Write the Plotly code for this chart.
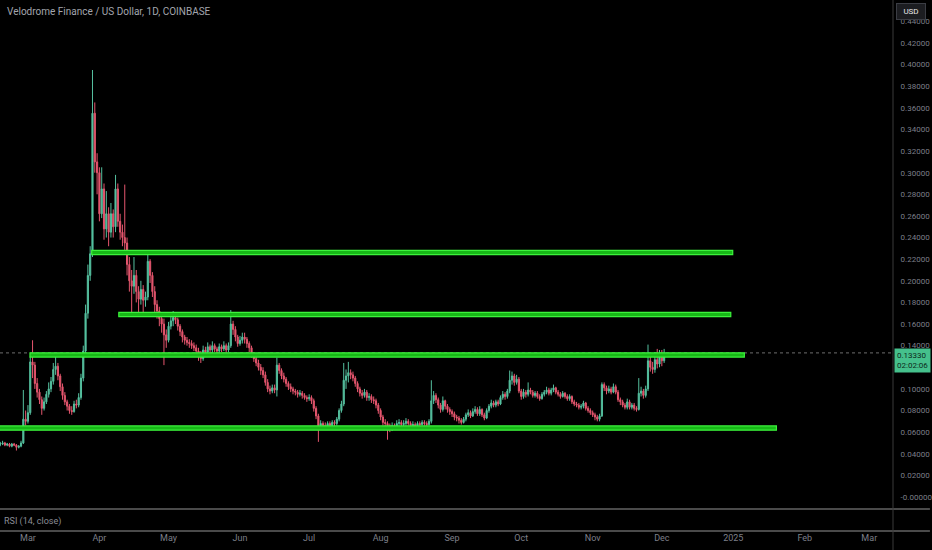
import pandas as pd
import plotly.graph_objects as go

# ---------------- data (daily candles, VELO/USD, COINBASE) ----------------
start_date = "2024-02-18"

opens = [
 0.049,0.049,0.050,0.048,0.049,0.047,0.049,0.048,0.046,0.047,
 0.050,0.072,0.070,0.078,0.125,0.122,0.105,0.097,0.090,0.082,
 0.088,0.095,0.100,0.107,0.118,0.121,0.112,0.102,0.094,0.088,
 0.084,0.080,0.079,0.086,0.085,0.092,0.110,0.135,0.170,0.205,
 0.225,0.355,0.310,0.300,0.262,0.285,0.248,0.262,0.245,0.262,
 0.250,0.285,0.255,0.245,0.240,0.235,0.215,0.200,0.195,0.205,
 0.190,0.183,0.192,0.182,0.185,0.218,0.205,0.190,0.178,0.172,
 0.165,0.160,0.150,0.145,0.158,0.163,0.166,0.164,0.158,0.153,
 0.148,0.145,0.143,0.142,0.140,0.138,0.135,0.131,0.128,0.136,
 0.134,0.139,0.136,0.140,0.137,0.135,0.139,0.137,0.140,0.136,
 0.140,0.160,0.155,0.148,0.142,0.145,0.148,0.146,0.142,0.138,
 0.132,0.128,0.124,0.120,0.117,0.113,0.106,0.100,0.098,0.101,
 0.099,0.122,0.117,0.112,0.109,0.105,0.102,0.100,0.098,0.097,
 0.095,0.096,0.094,0.092,0.091,0.092,0.089,0.082,0.075,0.066,
 0.068,0.066,0.065,0.068,0.066,0.069,0.068,0.072,0.080,0.086,
 0.108,0.112,0.115,0.113,0.110,0.105,0.100,0.096,0.094,0.097,
 0.092,0.093,0.090,0.089,0.085,0.080,0.074,0.069,0.068,0.066,
 0.064,0.066,0.064,0.068,0.069,0.067,0.068,0.070,0.068,0.066,
 0.067,0.066,0.068,0.067,0.069,0.068,0.067,0.070,0.089,0.094,
 0.090,0.085,0.081,0.089,0.084,0.081,0.079,0.077,0.074,0.073,
 0.071,0.069,0.072,0.076,0.078,0.075,0.079,0.081,0.077,0.081,
 0.076,0.073,0.080,0.084,0.087,0.085,0.088,0.086,0.092,0.095,
 0.093,0.098,0.108,0.112,0.106,0.109,0.098,0.093,0.097,0.095,
 0.099,0.097,0.094,0.096,0.093,0.091,0.095,0.097,0.099,0.096,
 0.099,0.101,0.097,0.095,0.093,0.096,0.093,0.091,0.093,0.088,
 0.086,0.085,0.083,0.084,0.087,0.082,0.080,0.078,0.076,0.074,
 0.072,0.075,0.104,0.101,0.098,0.100,0.097,0.102,0.097,0.090,
 0.088,0.085,0.083,0.088,0.083,0.085,0.082,0.081,0.096,0.098,
 0.094,0.100,0.126,0.120,0.118,0.127,0.123,0.131,0.126,
]
highs = [
 0.051,0.052,0.051,0.050,0.050,0.050,0.050,0.049,0.048,0.052,
 0.099,0.080,0.085,0.130,0.145,0.125,0.110,0.100,0.093,0.092,
 0.098,0.106,0.111,0.124,0.133,0.124,0.114,0.105,0.097,0.090,
 0.086,0.084,0.089,0.090,0.096,0.114,0.140,0.178,0.215,0.232,
 0.395,0.365,0.318,0.305,0.305,0.290,0.283,0.268,0.272,0.266,
 0.298,0.290,0.262,0.252,0.289,0.240,0.222,0.210,0.222,0.210,
 0.195,0.200,0.196,0.190,0.226,0.220,0.208,0.195,0.182,0.176,
 0.170,0.165,0.155,0.162,0.168,0.172,0.170,0.166,0.160,0.155,
 0.150,0.148,0.146,0.145,0.143,0.141,0.138,0.135,0.140,0.139,
 0.143,0.141,0.144,0.142,0.139,0.142,0.141,0.144,0.142,0.143,
 0.173,0.163,0.158,0.150,0.149,0.152,0.152,0.148,0.144,0.140,
 0.134,0.130,0.127,0.123,0.120,0.116,0.109,0.103,0.104,0.104,
 0.129,0.124,0.119,0.115,0.111,0.107,0.105,0.102,0.100,0.099,
 0.099,0.098,0.096,0.094,0.095,0.094,0.091,0.084,0.077,0.071,
 0.070,0.069,0.070,0.070,0.071,0.071,0.074,0.082,0.089,0.124,
 0.118,0.125,0.118,0.116,0.112,0.107,0.102,0.099,0.100,0.099,
 0.096,0.095,0.093,0.091,0.087,0.082,0.076,0.072,0.070,0.068,
 0.069,0.068,0.071,0.072,0.071,0.071,0.073,0.072,0.070,0.070,
 0.069,0.070,0.070,0.071,0.071,0.070,0.072,0.108,0.098,0.096,
 0.092,0.087,0.093,0.090,0.086,0.083,0.081,0.079,0.076,0.075,
 0.073,0.074,0.078,0.081,0.080,0.082,0.084,0.083,0.084,0.082,
 0.078,0.082,0.086,0.090,0.089,0.090,0.090,0.094,0.098,0.097,
 0.100,0.117,0.116,0.114,0.113,0.111,0.100,0.100,0.099,0.106,
 0.101,0.099,0.098,0.098,0.095,0.097,0.099,0.102,0.101,0.101,
 0.104,0.102,0.099,0.097,0.098,0.097,0.095,0.095,0.094,0.090,
 0.088,0.087,0.086,0.089,0.088,0.084,0.082,0.080,0.078,0.076,
 0.077,0.106,0.106,0.103,0.103,0.102,0.105,0.104,0.099,0.092,
 0.090,0.087,0.091,0.090,0.087,0.087,0.084,0.110,0.102,0.100,
 0.103,0.141,0.130,0.125,0.134,0.137,0.136,0.136,0.137,
]
lows = [
 0.047,0.048,0.047,0.047,0.046,0.046,0.047,0.043,0.045,0.046,
 0.049,0.066,0.068,0.076,0.110,0.100,0.092,0.086,0.076,0.080,
 0.086,0.092,0.097,0.104,0.113,0.108,0.098,0.090,0.085,0.080,
 0.077,0.076,0.078,0.082,0.083,0.090,0.107,0.130,0.165,0.200,
 0.222,0.300,0.280,0.255,0.258,0.238,0.240,0.232,0.240,0.240,
 0.245,0.250,0.238,0.232,0.228,0.205,0.190,0.170,0.188,0.180,
 0.170,0.178,0.168,0.176,0.182,0.198,0.185,0.168,0.165,0.158,
 0.152,0.122,0.138,0.143,0.155,0.158,0.160,0.154,0.149,0.143,
 0.141,0.140,0.138,0.137,0.135,0.130,0.126,0.124,0.126,0.130,
 0.131,0.133,0.133,0.134,0.132,0.133,0.134,0.135,0.133,0.134,
 0.138,0.150,0.144,0.139,0.140,0.142,0.142,0.138,0.134,0.129,
 0.125,0.121,0.117,0.113,0.110,0.103,0.097,0.095,0.096,0.096,
 0.093,0.114,0.109,0.106,0.102,0.099,0.097,0.095,0.094,0.092,
 0.093,0.091,0.090,0.088,0.089,0.086,0.079,0.072,0.051,0.064,
 0.063,0.062,0.063,0.064,0.064,0.065,0.066,0.070,0.078,0.084,
 0.100,0.106,0.109,0.107,0.102,0.097,0.093,0.091,0.092,0.089,
 0.089,0.087,0.086,0.082,0.077,0.071,0.066,0.062,0.053,0.060,
 0.061,0.062,0.062,0.066,0.065,0.065,0.066,0.066,0.064,0.064,
 0.064,0.065,0.065,0.066,0.066,0.065,0.066,0.068,0.086,0.087,
 0.082,0.078,0.079,0.081,0.078,0.076,0.074,0.071,0.070,0.068,
 0.067,0.068,0.070,0.074,0.073,0.074,0.077,0.075,0.075,0.074,
 0.071,0.072,0.078,0.082,0.083,0.083,0.084,0.085,0.090,0.090,
 0.091,0.096,0.104,0.103,0.104,0.096,0.090,0.091,0.092,0.093,
 0.095,0.092,0.092,0.091,0.089,0.090,0.093,0.095,0.094,0.094,
 0.097,0.095,0.093,0.091,0.092,0.091,0.089,0.089,0.086,0.084,
 0.083,0.081,0.081,0.082,0.080,0.078,0.076,0.074,0.071,0.070,
 0.070,0.074,0.098,0.095,0.096,0.095,0.096,0.095,0.088,0.085,
 0.083,0.081,0.081,0.081,0.081,0.080,0.079,0.080,0.093,0.091,
 0.092,0.098,0.116,0.114,0.115,0.119,0.120,0.121,0.124,
]
closes = [
 0.049,0.050,0.048,0.049,0.047,0.049,0.048,0.046,0.047,0.050,
 0.072,0.070,0.078,0.125,0.122,0.105,0.097,0.090,0.082,0.088,
 0.095,0.100,0.107,0.118,0.121,0.112,0.102,0.094,0.088,0.084,
 0.080,0.079,0.086,0.085,0.092,0.110,0.135,0.170,0.205,0.225,
 0.355,0.310,0.300,0.262,0.285,0.248,0.262,0.245,0.262,0.250,
 0.285,0.255,0.245,0.240,0.235,0.215,0.200,0.195,0.205,0.190,
 0.183,0.192,0.182,0.185,0.218,0.205,0.190,0.178,0.172,0.165,
 0.160,0.150,0.145,0.158,0.163,0.166,0.164,0.158,0.153,0.148,
 0.145,0.143,0.142,0.140,0.138,0.135,0.131,0.128,0.136,0.134,
 0.139,0.136,0.140,0.137,0.135,0.139,0.137,0.140,0.136,0.140,
 0.160,0.155,0.148,0.142,0.145,0.148,0.146,0.142,0.138,0.132,
 0.128,0.124,0.120,0.117,0.113,0.106,0.100,0.098,0.101,0.099,
 0.122,0.117,0.112,0.109,0.105,0.102,0.100,0.098,0.097,0.095,
 0.096,0.094,0.092,0.091,0.092,0.089,0.082,0.075,0.066,0.068,
 0.066,0.065,0.068,0.066,0.069,0.068,0.072,0.080,0.086,0.108,
 0.112,0.115,0.113,0.110,0.105,0.100,0.096,0.094,0.097,0.092,
 0.093,0.090,0.089,0.085,0.080,0.074,0.069,0.068,0.066,0.064,
 0.066,0.064,0.068,0.069,0.067,0.068,0.070,0.068,0.066,0.067,
 0.066,0.068,0.067,0.069,0.068,0.067,0.070,0.089,0.094,0.090,
 0.085,0.081,0.089,0.084,0.081,0.079,0.077,0.074,0.073,0.071,
 0.069,0.072,0.076,0.078,0.075,0.079,0.081,0.077,0.081,0.076,
 0.073,0.080,0.084,0.087,0.085,0.088,0.086,0.092,0.095,0.093,
 0.098,0.108,0.112,0.106,0.109,0.098,0.093,0.097,0.095,0.099,
 0.097,0.094,0.096,0.093,0.091,0.095,0.097,0.099,0.096,0.099,
 0.101,0.097,0.095,0.093,0.096,0.093,0.091,0.093,0.088,0.086,
 0.085,0.083,0.084,0.087,0.082,0.080,0.078,0.076,0.074,0.072,
 0.075,0.104,0.101,0.098,0.100,0.097,0.102,0.097,0.090,0.088,
 0.085,0.083,0.088,0.083,0.085,0.082,0.081,0.096,0.098,0.094,
 0.100,0.126,0.120,0.118,0.127,0.123,0.131,0.126,0.1333,
]

# horizontal zones drawn on the chart (price level, start, end)
zone_levels = [0.2262, 0.1688, 0.1314, 0.0638]
zone_starts = ["2024-03-28 16:00", "2024-04-09 10:00", "2024-03-01 21:00", "2024-01-20"]
zone_ends = ["2024-12-31 18:00", "2024-12-30 22:00", "2025-01-05 19:00", "2025-01-19 17:00"]

# axis ticks
price_ticks = [0.00, 0.02, 0.04, 0.06, 0.08, 0.10, 0.12, 0.14, 0.16, 0.18, 0.20,
               0.22, 0.24, 0.26, 0.28, 0.30, 0.32, 0.34, 0.36, 0.38, 0.40, 0.42, 0.44]
price_tick_text = ["-0.00000"] + [f"{v:.5f}" for v in price_ticks[1:]]
month_ticks = ["2024-03-01", "2024-04-01", "2024-05-01", "2024-06-01", "2024-07-01",
               "2024-08-01", "2024-09-01", "2024-10-01", "2024-11-01", "2024-12-01",
               "2025-01-01", "2025-02-01", "2025-03-01"]
month_labels = ["Mar", "Apr", "May", "Jun", "Jul", "Aug", "Sep", "Oct", "Nov", "Dec",
                "2025", "Feb", "Mar"]

title_text = "Velodrome Finance / US Dollar, 1D, COINBASE"
last_price_text = "0.13330"
countdown_text = "02:02:06"

# ---------------- figure ----------------
W, H = 932, 550
PLOT_R = 895          # right edge of plotting area (px)
MAIN_BOTTOM = 509     # bottom of price pane (px)
RSI_BOTTOM = 531      # bottom of RSI pane (px)

dates = pd.date_range(start_date, periods=len(closes), freq="D")

UP = "#55c09f"
DOWN = "#e5566e"
ZONE_FILL = "#17b917"
ZONE_EDGE = "#3cf23c"
GREY = "#7c7f88"
FONT = "Roboto, DejaVu Sans"

fig = go.Figure()

fig.add_trace(go.Candlestick(
    x=dates, open=opens, high=highs, low=lows, close=closes,
    increasing=dict(line=dict(color=UP, width=1), fillcolor=UP),
    decreasing=dict(line=dict(color=DOWN, width=1), fillcolor=DOWN),
    whiskerwidth=0, showlegend=False, hoverinfo="skip",
    xaxis="x", yaxis="y",
))

# invisible trace on the (empty) RSI pane so that pane's axis exists
fig.add_trace(go.Scatter(x=[dates[0]], y=[50], mode="markers",
                         marker=dict(opacity=0), showlegend=False,
                         hoverinfo="skip", xaxis="x", yaxis="y2"))

y_lo = (497 - MAIN_BOTTOM) / 1081.0
y_hi = 497 / 1081.0
zone_half = 2.1 / 1081.0

shapes = []
# last price dotted line
shapes.append(dict(type="line", xref="paper", yref="y", x0=0, x1=1,
                   y0=closes[-1], y1=closes[-1], layer="below",
                   line=dict(color="#6d6d6d", width=1, dash="dot")))
# zones
for lvl, s, e in zip(zone_levels, zone_starts, zone_ends):
    shapes.append(dict(type="rect", xref="x", yref="y", x0=s, x1=e,
                       y0=lvl - zone_half, y1=lvl + zone_half,
                       fillcolor=ZONE_FILL, line=dict(color=ZONE_EDGE, width=1.2),
                       layer="above"))
# pane separators
for py in (MAIN_BOTTOM, RSI_BOTTOM):
    shapes.append(dict(type="line", xref="paper", yref="paper",
                       x0=0, x1=W / PLOT_R, y0=1 - py / H, y1=1 - py / H,
                       line=dict(color="#4a4a4a", width=2)))
# price scale border
shapes.append(dict(type="line", xref="paper", yref="paper", x0=1, x1=1,
                   y0=0, y1=1, line=dict(color="#3a3a3a", width=1)))

annotations = [
    dict(text=title_text, xref="paper", yref="paper", x=5 / PLOT_R, y=1 - 11 / H,
         xanchor="left", yanchor="middle", showarrow=False,
         font=dict(family=FONT, size=10, color="#a3a6ae")),
    dict(text="RSI (14, close)", xref="paper", yref="paper", x=2 / PLOT_R,
         y=1 - 521 / H, xanchor="left", yanchor="middle", showarrow=False,
         font=dict(family=FONT, size=9, color="#8a8d95")),
    dict(text="USD", xref="paper", yref="paper", x=913 / PLOT_R, y=1 - 11 / H,
         xanchor="center", yanchor="middle", showarrow=False,
         bgcolor="#1c1d21", bordercolor="#3b3d44", borderwidth=1, borderpad=3,
         width=22, font=dict(family=FONT, size=8, color="#e8e8e8")),
    dict(text=f"{last_price_text}<br>{countdown_text}", xref="paper", yref="y",
         x=896 / PLOT_R, y=closes[-1], xanchor="left", yanchor="top",
         yshift=5, showarrow=False, align="left",
         bgcolor="#45c08c", borderpad=2,
         font=dict(family=FONT, size=8, color="#0d2b1c")),
]

fig.update_layout(
    width=W, height=H,
    margin=dict(l=0, r=W - PLOT_R, t=0, b=0),
    paper_bgcolor="#000000", plot_bgcolor="#000000",
    showlegend=False,
    xaxis=dict(
        domain=[0, 1], anchor="y2",
        range=["2024-02-17 21:00", "2025-03-11 07:00"],
        rangeslider=dict(visible=False),
        tickmode="array", tickvals=month_ticks, ticktext=month_labels,
        showgrid=False, zeroline=False, showline=False, ticks="",
        tickfont=dict(family=FONT, size=9, color=GREY),
    ),
    yaxis=dict(
        domain=[1 - MAIN_BOTTOM / H, 1], anchor="x", side="right",
        range=[y_lo, y_hi],
        tickmode="array", tickvals=price_ticks, ticktext=price_tick_text,
        showgrid=False, zeroline=False, showline=False,
        ticks="outside", ticklen=5, tickcolor="rgba(0,0,0,0)",
        tickfont=dict(family=FONT, size=8, color=GREY),
    ),
    yaxis2=dict(
        domain=[1 - RSI_BOTTOM / H, 1 - (MAIN_BOTTOM + 1) / H], anchor="x",
        range=[0, 100], showticklabels=False, showgrid=False,
        zeroline=False, showline=False, ticks="",
    ),
    shapes=shapes,
    annotations=annotations,
)

fig.write_html(
    "out.html",
    config={"displayModeBar": False, "staticPlot": True},
    post_script="document.body.style.margin='0';document.body.style.overflow='hidden';"
                "document.body.style.background='#000';",
)
